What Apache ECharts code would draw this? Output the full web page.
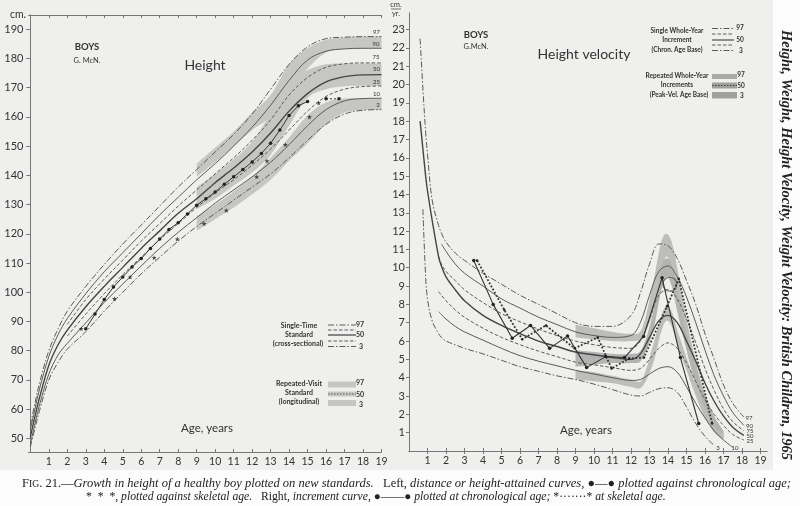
<!DOCTYPE html>
<html><head><meta charset="utf-8">
<script src="https://cdn.jsdelivr.net/npm/echarts/dist/echarts.min.js"></script>
<style>html,body{margin:0;padding:0;background:#fff}#c{width:800px;height:506px}</style>
</head><body><div id="c"></div>
<script>
// ---------------- DATA: Height (left panel) ----------------
const hAges = [0,0.25,0.5,1,1.5,2,3,4,5,6,7,8,9,10,11,12,13,14,15,16,17,18,19];
const hP97 = [54.5,62,69,80,87.5,93.5,102,109.5,116.5,123,129.5,136,142,148,154,161,169.5,178,184,186.8,187.3,187.5,187.5];
const hP90 = [53,60,67,78,85.5,91,99.5,107,113.5,120,126.5,132.5,138.5,144,150,156.5,164,172.5,179.5,182.5,183.3,183.5,183.5];
const hP75 = [null,null,null,null,null,89,97.5,104.5,111,117.5,123.5,129.5,135,140.5,146,152,159,167.5,173.5,177,178.2,178.5,178.5];
const hP50 = [50.5,57.5,64,75,82,87,95,102,108.5,115,121,127,132,137.5,142.5,148,154.5,162,168,172,173.8,174.4,174.5];
const hP25 = [null,null,null,null,null,85,92.5,99.5,106,112,118,123.5,129,134,138.5,143.5,149,155.5,162,167,169.5,170.4,170.6];
const hP10 = [48,55,61.5,72,78.5,82.5,89.5,96.5,102.8,109,115,120.5,125.5,130.5,135,139.5,144.5,150.5,157,162.5,165.5,166.3,166.4];
const hP3  = [47,53.5,59.5,70,76,80.5,86.5,93.5,100,106.3,112,117.5,122.5,127,131.5,136,140.5,146,152,157.5,161,162.3,162.5];
const hTicks = [50,60,70,80,90,100,110,120,130,140,150,160,170,180,190];
const ageTicks = [1,2,3,4,5,6,7,8,9,10,11,12,13,14,15,16,17,18,19];

// longitudinal (repeated-visit) bands, ages 9..19
const bandAges = [9,10,11,12,13,14,15,16,17,18,19];
const bandUpLo = [139.5,144.5,150,155.5,160,167.5,176.5,182,183.3,183.5,183.5];
const bandUpHi = [144,149.5,155,161.5,167.5,178,183.5,186.4,187.2,187.5,187.5];
const bandMidLo = [128.5,132,136.5,141,147,157,166.5,169.5,170.5,170.7,170.7];
const bandMidHi = [136,140.5,145.5,151.5,161,171,176,178,178.3,178.3,178.3];
const bandLowLo = [121,125,129,133.5,138.5,145,151,157.5,161.5,162.3,162.4];
const bandLowHi = [126,130,134.5,139.5,146,153,160.5,165,166.3,166.3,166.3];

// boy, height
const boyHAge = [3.0,3.5,4.0,4.5,5.0,5.5,6.0,6.5,7.0,7.5,8.0,8.5,9.0,9.5,10.0,10.5,11.0,11.5,12.0,12.5,13.0,13.5,14.0,14.5,15.0];
const boyH    = [87.5,92.5,97.5,101.8,105.2,108.6,111.5,115,118.2,121.5,123.8,126.8,129.8,132,134.3,137,139.5,142,144.6,147.5,151,155.5,160.5,163.8,165.3];
const boyHLateAge = [16.0,16.7];
const boyHLate = [166.2,166.2];
const skelHAge = [2.75,4.55,5.4,6.7,7.95,9.4,10.6,12.25,12.8,13.8,15.1,15.6];
const skelH    = [87.5,97.8,105.2,111.8,118.2,123.5,128,139.5,145,150.5,160,164.8];

// ---------------- DATA: Height velocity (right panel) ----------------
const vAges = [0.6,0.75,0.9,1,1.25,1.6,1.75,2,2.5,3,4,5,6,7,8,9,10,11,12,12.5,13,13.5,14,14.5,15,15.5,16,16.5,17,17.5,18.1];
const vP97 = [22.5,19.8,17.4,16.2,13.7,12.3,11.9,11.4,10.8,10.4,9.7,9.1,8.5,8.0,7.5,7.0,6.8,6.8,7.4,8.6,10.2,11.3,11.2,10.5,9.3,8.0,6.4,5.0,3.6,2.6,1.85];
const vP90 = [null,null,null,null,null,null,11.3,10.9,10.2,9.7,9.0,8.3,7.8,7.3,6.9,6.5,6.3,6.2,6.3,7.0,8.5,9.8,10.1,9.5,8.4,7.0,5.5,4.1,3.0,2.1,1.4];
const vP75 = [null,null,null,null,null,10.6,10.2,9.8,9.3,8.8,8.1,7.5,7.05,6.65,6.3,6.0,5.8,5.65,5.6,6.0,7.2,8.5,8.8,8.3,7.2,5.9,4.5,3.3,2.3,1.6,1.1];
const vP50 = [18.0,16.5,15.0,14.2,12.6,10.6,10.1,9.5,8.8,8.2,7.4,6.85,6.4,6.0,5.7,5.4,5.25,5.1,5.0,5.3,6.2,7.1,7.4,7.0,6.0,4.9,3.7,2.7,1.9,1.3,0.85];
const vP25 = [null,null,null,null,null,8.7,8.5,8.2,7.7,7.3,6.7,6.2,5.8,5.45,5.15,4.85,4.7,4.55,4.4,4.5,5.0,5.6,5.9,5.6,4.8,3.8,2.8,2.0,1.4,0.9,0.6];
const vP10 = [null,null,null,null,null,7.6,7.45,7.2,6.8,6.5,6.05,5.6,5.2,4.9,4.65,4.4,4.2,4.0,3.85,3.9,4.2,4.5,4.6,4.3,3.5,2.6,1.8,1.1,0.6,0.2,null];
const vP3  = [null,13.2,9.5,8.3,7.1,6.4,6.2,6.0,5.8,5.6,5.3,4.95,4.6,4.35,4.1,3.9,3.65,3.35,3.05,3.0,3.2,3.4,3.45,3.2,2.4,1.5,0.8,0.3,null,null,null];
const vTicks = [1,2,3,4,5,6,7,8,9,10,11,12,13,14,15,16,17,18,19,20,21,22,23];

// peak-velocity-age-base bands
const vbAges = [9,10,11,12,12.6,13.2,13.6,13.9,14.2,14.5,15.0,15.5,16.0,16.5,17.0];
const vbUpLo = [6.2,6.1,6.0,6.0,6.2,7.6,9.6,10.6,10.0,8.2,5.6,3.5,1.9,1.0,null];
const vbUpHi = [6.9,6.7,6.5,6.4,6.7,9.2,11.3,11.85,11.4,10.0,7.2,4.9,3.0,1.8,null];
const vbMidLo = [4.6,4.7,4.8,4.8,5.0,6.6,8.6,9.5,9.0,7.6,5.5,3.7,2.3,1.3,0.7];
const vbMidHi = [5.5,5.4,5.3,5.3,5.6,7.6,9.9,10.5,10.2,8.8,6.5,4.6,3.1,1.9,1.1];
const vbLowLo = [3.9,3.8,3.7,3.5,3.5,4.8,6.4,7.1,6.8,5.8,4.4,3.0,1.8,1.0,0.6];
const vbLowHi = [4.4,4.3,4.1,3.9,3.9,5.8,7.3,7.9,7.6,6.6,5.1,3.6,2.3,1.3,0.9];

// boy, velocity
const boyVAge = [3.5,4.55,5.58,6.57,7.6,8.57,9.6,10.63,11.65,12.68,13.68,14.67,15.66];
const boyV    = [10.4,8.0,6.15,6.85,5.6,6.28,4.55,5.15,5.1,6.25,9.45,5.1,1.5];
const skelVAge = [3.68,5.15,6.12,7.4,8.95,10.2,10.95,11.9,12.7,13.95,14.58,16.38];
const skelV    = [10.4,7.7,6.1,6.85,5.6,6.2,4.5,5.05,5.1,7.9,9.4,1.5];
const peakCircle = [[14.1,9.1]];

// ---------------- helpers ----------------
const FONT = 'Lato, "Open Sans", sans-serif';
const SERIF = '"Liberation Serif", "DejaVu Serif", serif';
const LC = '#5a5a5a';
const DASHDOT = [6,2,1.5,2];
const DASH = [3.5,2];
const STAR = 'path://M0,-10 L2.4,-3.2 9.5,-3.1 3.8,1.2 5.9,8.1 0,4 -5.9,8.1 -3.8,1.2 -9.5,-3.1 -2.4,-3.2 Z';

function pairs(xs, ys){ const out=[]; for(let i=0;i<xs.length;i++){ if(ys[i]!==null && ys[i]!==undefined) out.push([xs[i], ys[i]]); } return out; }
function pctLine(xi, yi, xs, ys, type, width, color){
  return {type:'line', xAxisIndex:xi, yAxisIndex:yi, data:pairs(xs,ys), smooth:0.35, showSymbol:false, silent:true, z:3,
    lineStyle:{type:type, width:width, color:color||LC}};
}
// pixel-space Catmull-Rom smoothing of an edge (drawing only)
function smoothEdge(p, n){
  if(p.length<3) return p.slice();
  const out=[];
  for(let i=0;i<p.length-1;i++){
    const p0=p[Math.max(i-1,0)], p1=p[i], p2=p[i+1], p3=p[Math.min(i+2,p.length-1)];
    for(let k=0;k<n;k++){
      const t=k/n, t2=t*t, t3=t2*t;
      const f=(a,b,c,d)=>0.5*((2*b)+(-a+c)*t+(2*a-5*b+4*c-d)*t2+(-a+3*b-3*c+d)*t3);
      out.push([f(p0[0],p1[0],p2[0],p3[0]), f(p0[1],p1[1],p2[1],p3[1])]);
    }
  }
  out.push(p[p.length-1]);
  return out;
}
function band(xi, yi, xs, lo, hi, color){
  return {type:'custom', xAxisIndex:xi, yAxisIndex:yi, silent:true, clip:true, z:1,
    data:[[xs[0], lo[0]]],
    renderItem: function(params, api){
      const up=[], dn=[];
      for(let i=0;i<xs.length;i++){
        if(hi[i]!==null && lo[i]!==null){ up.push(api.coord([xs[i], hi[i]])); dn.push(api.coord([xs[i], lo[i]])); }
      }
      const pts = smoothEdge(up,8).concat(smoothEdge(dn,8).reverse());
      return {type:'polygon', shape:{points:pts}, style:{fill:color}};
    }};
}
function txt(x,y,t,size,opts){
  opts = opts||{};
  return {type:'text', x:x, y:y, rotation:opts.rot||0, silent:true, z:50,
    style:{text:t, font:(opts.style||'normal')+' '+(opts.weight||'normal')+' '+size+'px '+(opts.family||FONT),
      fill:opts.color||'#333', align:opts.align||'center', verticalAlign:opts.va||'middle',
      textAlign:opts.align||'center', textVerticalAlign:opts.va||'middle'}};
}
function seg(x1,y1,x2,y2,dash,w,c){
  return {type:'line', silent:true, z:50, shape:{x1:x1,y1:y1,x2:x2,y2:y2}, style:{stroke:c||LC, lineWidth:w||1, lineDash:dash||null}};
}
function rect(x,y,w,h,c){ return {type:'rect', silent:true, z:40, shape:{x:x,y:y,width:w,height:h}, style:{fill:c}}; }

const axisLine = {show:true, lineStyle:{color:'#777', width:1}};
const lab = {fontFamily:FONT, fontSize:10.5, color:'#333'};

const option = {
  animation:false,
  backgroundColor:'#efefed',
  grid:[{left:28.5, top:15, width:353, height:437}, {left:409, top:13, width:358, height:438}],
  xAxis:[
    {gridIndex:0, type:'value', min:-0.1, max:19, axisLine:axisLine, splitLine:{show:false},
      axisTick:{show:true, inside:true, length:3, customValues:ageTicks, lineStyle:{color:'#777'}},
      axisLabel:Object.assign({margin:4, customValues:ageTicks}, lab)},
    {gridIndex:0, type:'value', position:'top', min:-0.1, max:19, axisLine:axisLine, splitLine:{show:false},
      axisTick:{show:true, inside:true, length:3, customValues:ageTicks, lineStyle:{color:'#777'}}, axisLabel:{show:false}},
    {gridIndex:1, type:'value', min:0, max:19.35, axisLine:axisLine, splitLine:{show:false},
      axisTick:{show:true, inside:true, length:3, customValues:ageTicks, lineStyle:{color:'#777'}},
      axisLabel:Object.assign({margin:4, customValues:ageTicks}, lab)},
    {gridIndex:1, type:'value', position:'top', min:0, max:19.35, axisLine:axisLine, splitLine:{show:false},
      axisTick:{show:true, inside:true, length:3, customValues:ageTicks, lineStyle:{color:'#777'}}, axisLabel:{show:false}}
  ],
  yAxis:[
    {gridIndex:0, type:'value', min:45.3, max:194.9, axisLine:axisLine, splitLine:{show:false},
      axisTick:{show:true, length:4, customValues:hTicks, lineStyle:{color:'#777'}},
      axisLabel:Object.assign({margin:5, customValues:hTicks}, lab, {fontSize:11})},
    {gridIndex:0, type:'value', position:'right', min:45.3, max:194.9, axisLine:axisLine, splitLine:{show:false},
      axisTick:{show:true, length:3, inside:true, customValues:hTicks, lineStyle:{color:'#777'}}, axisLabel:{show:false}},
    {gridIndex:1, type:'value', min:0, max:23.9, axisLine:axisLine, splitLine:{show:false},
      axisTick:{show:true, length:3, customValues:vTicks, lineStyle:{color:'#777'}},
      axisLabel:Object.assign({margin:4, customValues:vTicks}, lab, {fontSize:11})},
    {gridIndex:1, type:'value', position:'right', min:0, max:23.9, axisLine:axisLine, splitLine:{show:false},
      axisTick:{show:true, length:3, inside:true, customValues:vTicks, lineStyle:{color:'#777'}}, axisLabel:{show:false}}
  ],
  series:[
    band(0,0,bandAges,bandUpLo,bandUpHi,'#c6c6c4'),
    band(0,0,bandAges,bandMidLo,bandMidHi,'#c6c6c4'),
    band(0,0,bandAges,bandLowLo,bandLowHi,'#c6c6c4'),
    pctLine(0,0,hAges,hP97,DASHDOT,1),
    pctLine(0,0,hAges,hP90,'solid',1),
    pctLine(0,0,hAges,hP75,DASH,1),
    pctLine(0,0,hAges,hP50,'solid',1.4,'#444'),
    pctLine(0,0,hAges,hP25,DASH,1),
    pctLine(0,0,hAges,hP10,'solid',1),
    pctLine(0,0,hAges,hP3,DASHDOT,1),
    {type:'line', xAxisIndex:0, yAxisIndex:0, data:pairs(boyHAge,boyH), symbol:'circle', symbolSize:3.5, z:5, silent:true,
      itemStyle:{color:'#222'}, lineStyle:{color:'#333', width:1}},
    {type:'line', xAxisIndex:0, yAxisIndex:0, data:pairs(boyHLateAge,boyHLate), symbol:'circle', symbolSize:3.5, z:5, silent:true,
      itemStyle:{color:'#222'}, lineStyle:{color:'#333', width:1, type:[2,2]}},
    {type:'scatter', xAxisIndex:0, yAxisIndex:0, data:pairs(skelHAge,skelH), symbol:STAR, symbolSize:5, z:6, silent:true,
      itemStyle:{color:'#222'}},

    band(2,2,vbAges,vbUpLo,vbUpHi,'#bdbdbb'),
    band(2,2,vbAges,vbMidLo,vbMidHi,'#b3b3b1'),
    band(2,2,vbAges,vbLowLo,vbLowHi,'#bdbdbb'),
    pctLine(2,2,vAges,vP97,DASHDOT,1),
    pctLine(2,2,vAges,vP90,'solid',1),
    pctLine(2,2,vAges,vP75,DASH,1),
    pctLine(2,2,vAges,vP50,'solid',1.4,'#444'),
    pctLine(2,2,vAges,vP25,DASH,1),
    pctLine(2,2,vAges,vP10,'solid',1),
    pctLine(2,2,vAges,vP3,DASHDOT,1),
    {type:'line', xAxisIndex:2, yAxisIndex:2, data:pairs(boyVAge,boyV), symbol:'circle', symbolSize:3.5, z:6, silent:true,
      itemStyle:{color:'#222'}, lineStyle:{color:'#333', width:1.1}},
    {type:'line', xAxisIndex:2, yAxisIndex:2, data:pairs(skelVAge,skelV), symbol:'circle', symbolSize:2.5, z:6, silent:true,
      itemStyle:{color:'#222'}, lineStyle:{color:'#333', width:1.8, type:'dotted'}},
    {type:'scatter', xAxisIndex:2, yAxisIndex:2, data:peakCircle, symbol:'circle', symbolSize:14, z:5, silent:true,
      itemStyle:{color:'rgba(0,0,0,0)', borderColor:'#555', borderWidth:1.2}}
  ],
  graphic:[
    rect(0,470,800,36,'#fcfcfc'),
    rect(773,0,27,470,'#fcfcfc'),
    // left panel texts
    txt(18,15,'cm.',10.5),
    txt(87,47,'BOYS',9.5,{weight:'bold'}),
    txt(87,61,'G. McN.',7.5),
    txt(205,65,'Height',14),
    txt(207,428,'Age, years',11.5),
    txt(376.5,32,'97',6), txt(376,44,'90',6), txt(376,57,'75',6), txt(376.5,69,'50',6),
    txt(376.5,82,'25',6), txt(376.5,94,'10',6), txt(378,105,'3',6),
    // left legend
    txt(299,326,'Single-Time',7,{weight:'bold'}),
    txt(299,335,'Standard',7,{weight:'bold'}),
    txt(298,344,'(cross-sectional)',7,{weight:'bold'}),
    seg(328,325,356,325,DASHDOT), seg(328,330,356,330,DASH), seg(328,335,356,335,null,1.4),
    seg(328,341,356,341,DASH), seg(328,346.5,356,346.5,DASHDOT),
    txt(360,325,'97',7,{weight:'bold'}), txt(360,335,'50',7,{weight:'bold'}), txt(361,347,'3',7,{weight:'bold'}),
    txt(299,384,'Repeated-Visit',7,{weight:'bold'}),
    txt(299,393,'Standard',7,{weight:'bold'}),
    txt(299,402,'(longitudinal)',7,{weight:'bold'}),
    rect(328,381.5,28,6,'#c6c6c4'), rect(328,391.5,28,5,'#c6c6c4'), seg(328,394,356,394,[1.5,1.5]), rect(328,400,28,6,'#c6c6c4'),
    txt(360,383,'97',7,{weight:'bold'}), txt(360,394.5,'50',7,{weight:'bold'}), txt(361,405,'3',7,{weight:'bold'}),
    // right panel texts
    txt(396,5,'cm.',7.5), seg(391,9,401,9,null,0.8,'#555'), txt(396,14,'yr.',7.5),
    txt(476,35,'BOYS',9.5,{weight:'bold'}),
    txt(476,47,'G.McN.',7.5),
    txt(584,54,'Height velocity',14),
    txt(586,430,'Age, years',11.5),
    txt(749,418.5,'97',6), txt(749.5,426.5,'90',6), txt(750,431.5,'75',6), txt(750,436.5,'50',6), txt(750,441.5,'25',6),
    txt(735,448,'10',6), txt(718,448,'3',6),
    // right legend
    txt(677,31,'Single Whole-Year',6.5,{weight:'bold'}),
    txt(677,40,'Increment',6.5,{weight:'bold'}),
    txt(677,50,'(Chron. Age Base)',6.5,{weight:'bold'}),
    seg(712,28.5,734,28.5,DASHDOT), seg(712,34,734,34,DASH), seg(712,40,734,40,null,1.3),
    seg(712,45,734,45,DASH), seg(712,50.5,734,50.5,DASHDOT),
    txt(740,28,'97',6.5,{weight:'bold'}), txt(740,40,'50',6.5,{weight:'bold'}), txt(741,51,'3',6.5,{weight:'bold'}),
    txt(677,76,'Repeated Whole-Year',6.5,{weight:'bold'}),
    txt(677,85,'Increments',6.5,{weight:'bold'}),
    txt(679,95,'(Peak-Vel. Age Base)',6.5,{weight:'bold'}),
    rect(712,74,25,5,'#aaaaa8'), rect(712,82.5,25,6,'#a0a09e'), seg(712,85.5,737,85.5,[1.5,1.5],1,'#444'), rect(712,92,25,6.5,'#a0a09e'),
    txt(741,75,'97',6.5,{weight:'bold'}), txt(741,86,'50',6.5,{weight:'bold'}), txt(742,96,'3',6.5,{weight:'bold'}),
    // vertical title
    txt(786,245,'Height, Weight, Height Velocity, Weight Velocity: British Children, 1965',14.5,
      {style:'italic', weight:'bold', family:SERIF, rot:-Math.PI/2, color:'#222'}),
    // caption
    {type:'text', x:22, y:484, silent:true, z:50,
      style:{text:'{r|F}{sc|IG}{r|. 21.—}{i|Growth in height of a healthy boy plotted on new standards.}{r|   Left, }{i|distance or height-attained curves, }{r|●—●}{i| plotted against chronological age;}',
        verticalAlign:'middle', textVerticalAlign:'middle', fill:'#222',
        rich:{r:{font:'normal 12.5px '+SERIF, fill:'#222'}, sc:{font:'normal 9.7px '+SERIF, fill:'#222'}, i:{font:'italic 12.5px '+SERIF, fill:'#222'}}}},
    {type:'text', x:86, y:497, silent:true, z:50,
      style:{text:'{r|*  *  *, }{i|plotted against skeletal age.}{r|   Right, }{i|increment curve, }{r|●——●}{i| plotted at chronological age; }{r|*·······*}{i| at skeletal age.}',
        verticalAlign:'middle', textVerticalAlign:'middle', fill:'#222',
        rich:{r:{font:'normal 11.7px '+SERIF, fill:'#222'}, i:{font:'italic 11.7px '+SERIF, fill:'#222'}}}}
  ]
};
const chart = echarts.init(document.getElementById('c'), null, {renderer:'canvas'});
chart.setOption(option);
</script>
</body></html>
